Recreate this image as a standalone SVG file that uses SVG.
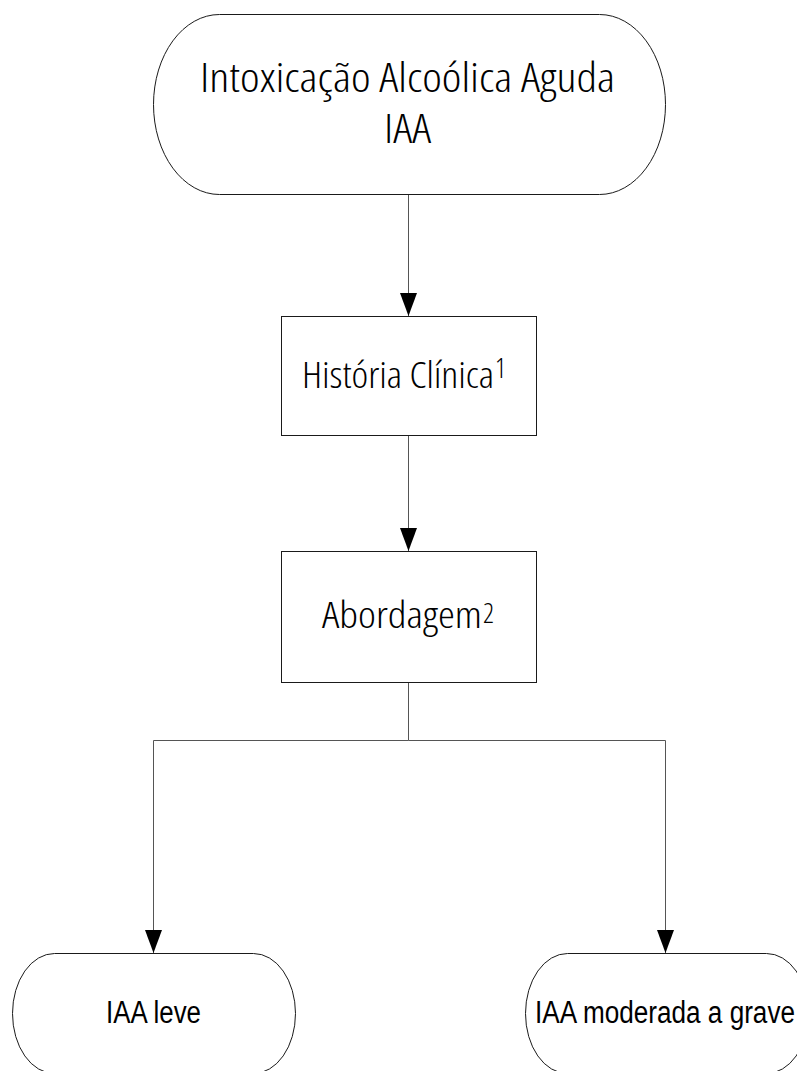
<svg xmlns="http://www.w3.org/2000/svg" width="797" height="1071" viewBox="0 0 797 1071">
<style>
.node{fill:#ffffff;stroke:#1a1a1a;stroke-width:1}
.conn{fill:none;stroke:#555555;stroke-width:1}
.os{font-family:"Open Sans","DejaVu Sans",sans-serif;font-stretch:75%;font-weight:300;fill:#000}
.nar{font-family:"Liberation Sans",Arial,sans-serif;font-size:31px;fill:#000}
</style>
<defs>
<marker id="ah" markerWidth="23" markerHeight="17" refX="23" refY="8.5" orient="auto" markerUnits="userSpaceOnUse" viewBox="0 0 23 17">
<path d="M0,0 L23,8.5 L0,17 Z" fill="#000"/>
</marker>
</defs>
<rect width="797" height="1071" fill="#ffffff"/>
<g id="connectors">
<line class="conn" x1="408.5" y1="195" x2="408.5" y2="316" marker-end="url(#ah)"/>
<line class="conn" x1="408.5" y1="436" x2="408.5" y2="551" marker-end="url(#ah)"/>
<polyline class="conn" points="408.5,683 408.5,740.5"/>
<polyline class="conn" points="408.5,740.5 153.5,740.5 153.5,953" marker-end="url(#ah)"/>
<polyline class="conn" points="408.5,740.5 665.5,740.5 665.5,953" marker-end="url(#ah)"/>
</g>
<g id="n1">
<rect class="node" x="153.5" y="14.5" width="512" height="180" rx="66" ry="90"/>
<text class="os" font-size="41" x="200" y="92" textLength="415" lengthAdjust="spacingAndGlyphs">Intoxicação Alcoólica Aguda</text>
<text class="os" font-size="41" x="384" y="143" textLength="47" lengthAdjust="spacingAndGlyphs">IAA</text>
</g>
<g id="n2">
<rect class="node" x="281.5" y="316.5" width="255" height="119"/>
<text class="os" font-size="37" x="302" y="388"><tspan textLength="192" lengthAdjust="spacingAndGlyphs">História Clínica</tspan><tspan x="495" y="378" font-size="27">1</tspan></text>
</g>
<g id="n3">
<rect class="node" x="281.5" y="551.5" width="255" height="131"/>
<text class="os" font-size="37" x="322" y="628"><tspan textLength="160" lengthAdjust="spacingAndGlyphs">Abordagem</tspan><tspan x="483" y="623" font-size="27">2</tspan></text>
</g>
<g id="n4">
<rect class="node" x="12.5" y="953.5" width="283" height="120" rx="42" ry="60"/>
<text class="nar" x="106" y="1023" textLength="95" lengthAdjust="spacingAndGlyphs">IAA leve</text>
</g>
<g id="n5">
<rect class="node" x="525.5" y="953.5" width="283" height="120" rx="42" ry="60"/>
<text class="nar" x="535" y="1023" textLength="260" lengthAdjust="spacingAndGlyphs">IAA moderada a grave</text>
</g>
</svg>
